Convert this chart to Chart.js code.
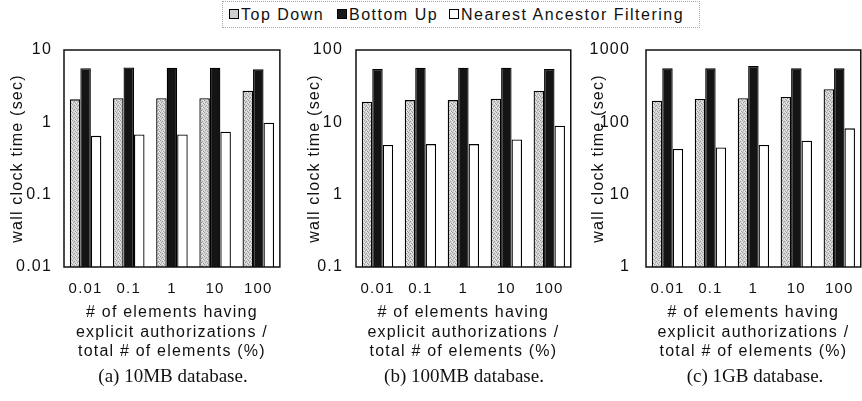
<!DOCTYPE html>
<html>
<head>
<meta charset="utf-8">
<script src="https://cdn.jsdelivr.net/npm/chart.js@4.4.1/dist/chart.umd.min.js"></script>
<style>
  html, body { margin: 0; padding: 0; background: #fff; overflow: hidden; }
  #page { position: relative; width: 862px; height: 401px; font-family: "Liberation Sans", Arial, sans-serif; color: #111; }
  canvas { position: absolute; top: 0; }
  .legend { position: absolute; left: 222px; top: 1px; width: 476px; height: 25px; border: 1px dotted #aaa; }
  .item { position: absolute; top: 4px; font-size: 16px; letter-spacing: 1.5px; line-height: 18px; white-space: nowrap; }
  .sw { display: inline-block; width: 8px; height: 8px; border: 1.5px solid #000; margin-right: 2px; vertical-align: 1px; }
  .caption { position: absolute; top: 365px; font-family: "Liberation Serif", "Times New Roman", serif; font-size: 19px; line-height: 22px; transform: translateX(-50%); white-space: nowrap; }
</style>
</head>
<body>
<div id="page">
  <div class="legend">
    <span class="item" style="left:6px"><span class="sw" style="background:#cfcfcf"></span>Top Down</span>
    <span class="item" style="left:114px"><span class="sw" style="background:#1a1a1a"></span>Bottom Up</span>
    <span class="item" style="left:226px"><span class="sw" style="background:#fff"></span>Nearest Ancestor Filtering</span>
  </div>
  <canvas id="chartA"></canvas>
  <canvas id="chartB"></canvas>
  <canvas id="chartC"></canvas>
  <div class="caption" style="left:173px">(a) 10MB database.</div>
  <div class="caption" style="left:464px">(b) 100MB database.</div>
  <div class="caption" style="left:755px">(c) 1GB database.</div>
</div>
<script>
// categories (share of elements with explicit authorizations, %)
const categories = ['0.01', '0.1', '1', '10', '100'];
const xTitle = ['# of elements having', 'explicit authorizations /', 'total # of elements (%)'];
const yTitle = 'wall clock time (sec)';

// (a) 10MB database
const topDown10MB = [2.08, 2.15, 2.15, 2.15, 2.74];
const bottomUp10MB = [5.6, 5.75, 5.7, 5.7, 5.4];
const nearest10MB = [0.65, 0.68, 0.68, 0.74, 0.99];
const yTicks10MB = [0.01, 0.1, 1, 10];
const yLabels10MB = ['0.01', '0.1', '1', '10'];

// (b) 100MB database
const topDown100MB = [19.3, 20.3, 20.3, 21.2, 27.1];
const bottomUp100MB = [54.6, 56.9, 57, 57, 54.6];
const nearest100MB = [4.85, 5.0, 5.0, 5.8, 9.0];
const yTicks100MB = [0.1, 1, 10, 100];
const yLabels100MB = ['0.1', '1', '10', '100'];

// (c) 1GB database
const topDown1GB = [199, 210, 215, 224, 286];
const bottomUp1GB = [558, 558, 600, 558, 558];
const nearest1GB = [42.7, 45, 48.5, 55.7, 82.6];
const yTicks1GB = [1, 10, 100, 1000];
const yLabels1GB = ['1', '10', '100', '1000'];

// grainy gray fill for the Top Down bars
function stipple() {
  const c = document.createElement('canvas');
  c.width = 4; c.height = 4;
  const g = c.getContext('2d');
  g.fillStyle = '#d2d2d2';
  g.fillRect(0, 0, 4, 4);
  g.fillStyle = '#9a9a9a';
  [[0, 0], [2, 1], [1, 2], [3, 3]].forEach(p => g.fillRect(p[0], p[1], 1, 1));
  g.fillStyle = '#ececec';
  [[2, 3], [0, 2], [3, 0]].forEach(p => g.fillRect(p[0], p[1], 1, 1));
  return g.createPattern(c, 'repeat');
}
const grayFill = stipple();

// box around the plot area
const framePlugin = {
  id: 'frame',
  beforeDraw(chart) {
    chart.ctx.letterSpacing = '1.2px';
  },
  afterDatasetsDraw(chart) {
    const { ctx, chartArea: a } = chart;
    ctx.save();
    ctx.strokeStyle = '#111';
    ctx.lineWidth = 1.5;
    ctx.strokeRect(a.left, a.top, a.right - a.left, a.bottom - a.top);
    ctx.restore();
  }
};

function makeChart(id, topDown, bottomUp, nearest, yTicks, yLabels, pos) {
  const canvas = document.getElementById(id);
  canvas.width = pos.width;
  canvas.height = 401;
  canvas.style.left = pos.left + 'px';
  canvas.style.width = pos.width + 'px';
  canvas.style.height = '401px';

  return new Chart(canvas.getContext('2d'), {
    type: 'bar',
    data: {
      labels: categories,
      datasets: [
        { label: 'Top Down', data: topDown, backgroundColor: grayFill },
        { label: 'Bottom Up', data: bottomUp, backgroundColor: '#141414' },
        { label: 'Nearest Ancestor Filtering', data: nearest, backgroundColor: '#ffffff' }
      ]
    },
    options: {
      responsive: false,
      animation: false,
      layout: { padding: { top: 50, bottom: 30, left: 0, right: 2 } },
      datasets: {
        bar: { categoryPercentage: 0.73, barPercentage: 1, borderColor: '#000', borderWidth: 1.3 }
      },
      plugins: { legend: { display: false }, tooltip: { enabled: false } },
      scales: {
        x: {
          grid: { display: false, drawTicks: false },
          border: { display: false },
          ticks: { font: { size: 15, family: 'Liberation Sans' }, color: '#111', padding: 13 },
          title: { display: true, text: xTitle, font: { size: 16, family: 'Liberation Sans' }, color: '#111', padding: { top: 4, bottom: 10 } },
          afterFit: s => { s.height = 104; }
        },
        y: {
          type: 'logarithmic',
          min: yTicks[0],
          max: yTicks[yTicks.length - 1],
          grid: { display: false, drawTicks: false },
          border: { display: false },
          afterBuildTicks: s => { s.ticks = yTicks.map(v => ({ value: v })); },
          ticks: {
            font: { size: 16, family: 'Liberation Sans' }, color: '#111', padding: pos.tickPad,
            callback: (v, i) => yLabels[i]
          },
          title: { display: true, text: yTitle, font: { size: 16, family: 'Liberation Sans' }, color: '#111', padding: { top: pos.titlePad, bottom: 0 } },
          afterFit: s => { s.width = 64; }
        }
      }
    },
    plugins: [framePlugin]
  });
}

makeChart('chartA', topDown10MB, bottomUp10MB, nearest10MB, yTicks10MB, yLabels10MB, { left: 0, width: 284, tickPad: 12, titlePad: 8 });
makeChart('chartB', topDown100MB, bottomUp100MB, nearest100MB, yTicks100MB, yLabels100MB, { left: 292, width: 283, tickPad: 13, titlePad: 13 });
makeChart('chartC', topDown1GB, bottomUp1GB, nearest1GB, yTicks1GB, yLabels1GB, { left: 582, width: 283, tickPad: 16, titlePad: 7 });
</script>
</body>
</html>
